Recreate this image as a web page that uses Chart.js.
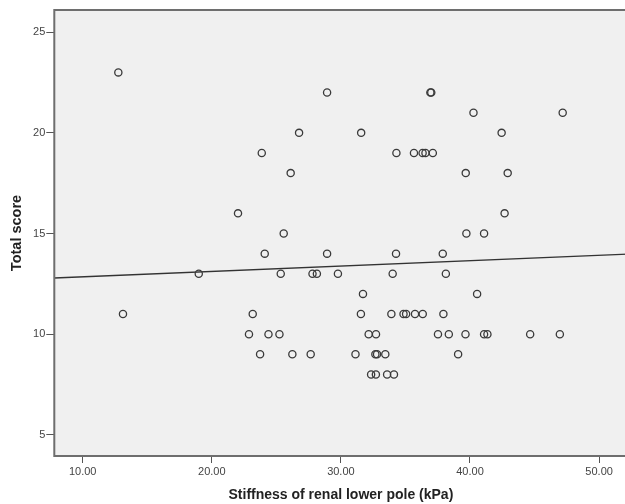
<!DOCTYPE html>
<html>
<head>
<meta charset="utf-8">
<script src="https://cdn.jsdelivr.net/npm/chart.js@4.4.0/dist/chart.umd.min.js"></script>
<style>
html, body { margin: 0; padding: 0; background: #fff; overflow: hidden; }
#wrap { width: 640px; height: 504px; }
</style>
</head>
<body>
<div id="wrap"><canvas id="chart" width="640" height="504"></canvas></div>
<script>
// stiffness of renal lower pole (kPa) against total score, one entry per patient
const stiffness = [
  12.76,
  28.93, 36.93, 37.0,
  40.27, 47.18,
  26.76, 31.57, 42.45,
  23.87, 34.3, 35.66, 36.33, 36.55, 37.12,
  26.11, 39.67, 42.92,
  22.03, 42.68,
  25.57, 39.72, 41.09,
  24.1, 28.93, 34.27, 37.89,
  18.99, 25.34, 27.8, 28.14, 29.77, 34.01, 38.13,
  31.71, 40.55,
  13.12, 23.17, 31.55, 33.91, 34.85, 35.05, 35.74, 36.34, 37.94,
  22.88, 24.39, 25.24, 32.15, 32.72, 37.52, 38.36, 39.65, 41.09, 41.35, 44.66, 46.96,
  23.74, 26.24, 27.66, 31.13, 32.67, 32.8, 33.44, 39.08,
  32.34, 32.71, 33.58, 34.11
];
const totalScore = [
  23,
  22, 22, 22,
  21, 21,
  20, 20, 20,
  19, 19, 19, 19, 19, 19,
  18, 18, 18,
  16, 16,
  15, 15, 15,
  14, 14, 14, 14,
  13, 13, 13, 13, 13, 13, 13,
  12, 12,
  11, 11, 11, 11, 11, 11, 11, 11, 11,
  10, 10, 10, 10, 10, 10, 10, 10, 10, 10, 10, 10,
  9, 9, 9, 9, 9, 9, 9, 9,
  8, 8, 8, 8
];

// fit line, ends taken at the plot edges
const fitX = [7.8, 52.2];
const fitY = [12.79, 13.98];

const xTicks = [10, 20, 30, 40, 50];
const yTicks = [5, 10, 15, 20, 25];

const points = stiffness.map((x, i) => ({ x: x, y: totalScore[i] }));
const fitLine = fitX.map((x, i) => ({ x: x, y: fitY[i] }));

const fontFamily = "'Liberation Sans', Arial, sans-serif";

// grey plot background and the box around it
const plotFrame = {
  id: 'plotFrame',
  beforeDraw(chart) {
    const { ctx, chartArea: a } = chart;
    ctx.save();
    ctx.fillStyle = '#f0f0f0';
    ctx.fillRect(a.left, a.top, a.right - a.left, a.bottom - a.top);
    ctx.restore();
  },
  afterDraw(chart) {
    const { ctx, chartArea: a } = chart;
    ctx.save();
    ctx.strokeStyle = '#6e6e6e';
    ctx.lineWidth = 2;
    ctx.strokeRect(a.left, a.top, a.right - a.left, a.bottom - a.top);
    ctx.restore();
  }
};

new Chart(document.getElementById('chart'), {
  type: 'scatter',
  data: {
    datasets: [
      {
        label: 'Total score',
        data: points,
        pointRadius: 3.6,
        pointBorderWidth: 1.3,
        pointBorderColor: '#3a3a3a',
        pointBackgroundColor: 'rgba(0,0,0,0)',
        showLine: false
      },
      {
        label: 'Fit line',
        data: fitLine,
        showLine: true,
        borderColor: '#333',
        borderWidth: 1.3,
        pointRadius: 0
      }
    ]
  },
  options: {
    responsive: false,
    animation: false,
    devicePixelRatio: 1,
    layout: {
      padding: { top: 10, right: 12.5, bottom: 0, left: 0 }
    },
    plugins: {
      legend: { display: false },
      tooltip: { enabled: false }
    },
    scales: {
      x: {
        type: 'linear',
        min: 7.8,
        max: 52.2,
        afterBuildTicks: (scale) => { scale.ticks = xTicks.map(v => ({ value: v })); },
        afterFit: (scale) => { scale.height = 48; },
        grid: {
          drawOnChartArea: false,
          drawTicks: true,
          tickLength: 7,
          tickColor: '#555',
          lineWidth: 1
        },
        border: { display: false },
        ticks: {
          color: '#444',
          padding: 2,
          maxRotation: 0,
          font: { family: fontFamily, size: 11 },
          callback: (v) => Number(v).toFixed(2)
        },
        title: {
          display: true,
          text: 'Stiffness of renal lower pole (kPa)',
          color: '#222',
          padding: { top: 4, bottom: 0 },
          font: { family: fontFamily, size: 14, weight: 'bold' }
        }
      },
      y: {
        type: 'linear',
        min: 3.95,
        max: 26.1,
        afterBuildTicks: (scale) => { scale.ticks = yTicks.map(v => ({ value: v })); },
        afterFit: (scale) => { scale.width = 54.3; },
        grid: {
          drawOnChartArea: false,
          drawTicks: true,
          tickLength: 8,
          tickColor: '#555',
          lineWidth: 1
        },
        border: { display: false },
        ticks: {
          color: '#444',
          padding: 1,
          font: { family: fontFamily, size: 11 }
        },
        title: {
          display: true,
          text: 'Total score',
          color: '#222',
          padding: { top: 8, bottom: 2 },
          font: { family: fontFamily, size: 14.5, weight: 'bold' }
        }
      }
    }
  },
  plugins: [plotFrame]
});
</script>
</body>
</html>
